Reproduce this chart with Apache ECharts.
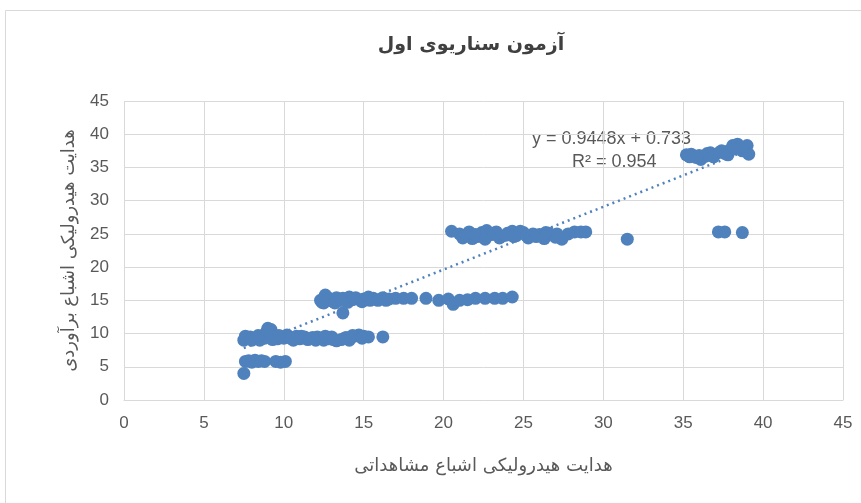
<!DOCTYPE html>
<html><head><meta charset="utf-8">
<script src="https://cdn.jsdelivr.net/npm/echarts@6/dist/echarts.min.js"></script>
<style>html,body{margin:0;padding:0;background:#fff}#c{width:861px;height:503px}</style>
</head><body><div id="c"></div>
<script>
const titleText = 'آزمون سناریوی اول';
const xName = 'هدایت هیدرولیکی اشباع مشاهداتی';
const yName = 'هدایت هیدرولیکی اشباع برآوردی';
const xTicks = [0,5,10,15,20,25,30,35,40,45];
const yTicks = [0,5,10,15,20,25,30,35,40,45];
// observed (x)
const observed = [
 7.5,7.7,7.9,8.1,8.3,8.5,8.7,8.9,9.0,9.2,9.4,9.6,9.8,10.0,10.2,10.4,10.6,10.8,11.0,11.3,11.5,11.8,12.0,12.3,12.5,12.8,13.0,13.3,13.6,13.9,14.1,14.4,14.7,15.0,15.3,16.2,
 7.6,8.0,8.4,8.8,9.1,9.3,9.7,10.5,11.1,11.6,12.1,12.6,13.1,13.8,14.3,14.9,
 7.6,7.8,8.0,8.2,8.4,8.6,8.8,9.5,9.8,10.1,7.5,
 12.3,12.5,12.7,12.9,13.1,13.3,13.5,13.7,13.9,14.1,14.3,14.5,14.8,15.0,15.3,15.6,15.9,16.2,16.6,17.0,17.5,18.0,18.9,19.7,20.3,20.6,21.0,21.5,22.0,22.6,23.2,23.7,24.3,13.7,12.6,
 12.4,12.8,13.2,13.6,14.0,14.4,14.9,15.4,15.8,16.4,
 20.5,21.0,21.4,21.8,22.1,22.4,22.7,23.0,23.3,23.6,24.0,24.3,24.6,25.0,25.3,25.6,26.0,26.3,26.6,27.0,27.4,27.8,28.2,28.6,28.9,31.5,
 21.2,21.6,22.0,22.6,23.1,23.5,23.9,24.4,24.8,25.2,25.8,26.4,27.1,
 35.2,35.5,35.8,36.1,36.4,36.7,37.0,37.3,37.6,37.9,38.1,38.4,38.7,39.0,39.1,
 35.4,36.0,36.5,36.9,37.4,37.8,38.2,38.6,
 37.2,37.6,38.7
];
// estimated (y)
const estimated = [
 9.0,9.3,9.5,9.2,9.4,9.0,9.6,10.2,10.8,10.6,9.8,9.2,9.5,9.3,9.8,9.4,9.0,9.6,9.2,9.5,9.1,9.4,9.0,9.3,9.0,9.2,9.5,8.9,9.1,9.4,9.0,9.6,9.8,9.6,9.5,9.5,
 9.6,9.0,9.7,9.3,10.3,9.1,9.7,9.2,9.6,9.2,9.5,9.6,9.1,9.3,9.7,9.3,
 5.8,5.9,5.7,6.0,5.8,5.9,5.8,5.8,5.7,5.8,4.0,
 15.0,14.6,15.5,15.2,14.8,15.4,15.0,15.3,14.9,15.5,15.1,15.4,15.0,15.2,15.5,15.3,15.0,15.4,15.2,15.3,15.3,15.3,15.3,15.0,15.2,14.4,15.0,15.1,15.3,15.3,15.3,15.3,15.5,13.1,15.8,
 14.7,15.1,14.6,15.0,14.7,15.2,14.8,15.0,15.1,15.0,
 25.4,25.0,24.8,24.3,24.6,25.2,25.5,24.9,25.3,24.6,25.1,25.4,24.8,25.2,24.4,25.0,24.9,24.3,25.1,24.5,24.2,25.0,25.3,25.3,25.3,24.2,
 24.4,25.3,24.9,24.2,25.1,24.4,24.8,24.6,25.4,24.7,24.6,25.2,25.0,
 36.9,37.0,36.5,36.2,36.7,37.2,37.0,37.3,37.1,37.6,38.3,38.5,37.5,38.3,37.0,
 36.6,36.8,37.1,36.6,37.5,36.9,37.8,38.0,
 25.3,25.3,25.2
];
const slope = 0.9448, intercept = 0.733;
const eqText = 'y = 0.9448x + 0.733';
const r2Text = 'R² = 0.954';

const pts = observed.map((x,i)=>[x, estimated[i]]);
const xmin = Math.min(...observed), xmax = Math.max(...observed);
const trend = [[xmin, slope*xmin+intercept],[xmax, slope*xmax+intercept]];

const chart = echarts.init(document.getElementById('c'));
const gray = '#595959';
chart.setOption({
  animation:false,
  title:{text:titleText,left:466,top:31,textAlign:'center',textStyle:{fontSize:19,fontWeight:'bold',color:'#404040',fontFamily:'DejaVu Sans'}},
  grid:{left:124,right:18,top:101,bottom:103},
  xAxis:{type:'value',min:0,max:45,interval:5,
    name:xName,nameLocation:'middle',nameGap:57,nameTextStyle:{fontSize:18,color:gray,fontFamily:'DejaVu Sans'},
    axisLine:{lineStyle:{color:'#d9d9d9'}},axisTick:{show:false},
    axisLabel:{fontSize:17,color:gray,margin:15,fontFamily:'Liberation Sans'},
    splitLine:{lineStyle:{color:'#d9d9d9'}}},
  yAxis:{type:'value',min:0,max:45,interval:5,
    name:yName,nameLocation:'middle',nameGap:46,nameTextStyle:{fontSize:18,color:gray,fontFamily:'DejaVu Sans'},
    axisLine:{show:false},axisTick:{show:false},
    axisLabel:{fontSize:17,color:gray,margin:15,fontFamily:'Liberation Sans'},
    splitLine:{lineStyle:{color:'#d9d9d9'}}},
  graphic:[
    {type:'rect',shape:{x:5.5,y:10.5,width:870,height:500},style:{fill:'none',stroke:'#d9d9d9',lineWidth:1},z:-10},
    {type:'text',left:532,top:130,style:{text:eqText,fontSize:18,fill:gray,fontFamily:'Liberation Sans'}},
    {type:'text',left:572,top:153,style:{text:r2Text,fontSize:18,fill:gray,fontFamily:'Liberation Sans'}}
  ],
  series:[
    {type:'scatter',data:pts,symbolSize:13,itemStyle:{color:'#4f81bd',opacity:1}},
    {type:'line',data:trend,symbol:'none',lineStyle:{color:'#4f81bd',width:2.5,type:[2,4]},z:3}
  ]
});
</script></body></html>
